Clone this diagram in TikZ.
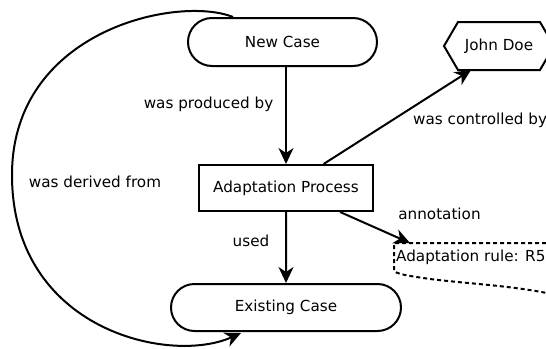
\documentclass[tikz,border=0pt]{standalone}
\usepackage{fontspec}
\setmainfont{DejaVu Sans}
\usetikzlibrary{shapes.misc,arrows.meta}
\begin{document}
\begin{tikzpicture}[x=1pt,y=-1pt,
  every node/.style={font=\fontsize{15.2}{18}\selectfont, inner sep=0pt},
  line/.style={line width=2pt},
  arr/.style={line, -{Stealth[length=16pt,width=15pt,inset=5pt]}},
  stadium/.style={rounded rectangle, draw, line width=2pt},
  procbox/.style={rectangle, draw, line width=2pt},
  lbl/.style={}]
\useasboundingbox (0,0) rectangle (546,348);

% entities, activity and agent
\node[stadium, minimum width=189pt, minimum height=48pt] (nc) at (282.5,42) {New Case};
\node[procbox, minimum width=174pt, minimum height=46pt] (ap) at (286,188) {Adaptation Process};
\node[stadium, minimum width=230pt, minimum height=47pt] (ec) at (286,307.5) {Existing Case};
\node (jd) at (499,46) {John Doe};
\draw[line, line join=miter] (444,46) -- (458,22) -- (540,22) -- (554,46) -- (540,70) -- (458,70) -- cycle;
\coordinate (jdin) at (471,70);

% annotation note with wavy lower edge
\draw[line, dash pattern=on 4pt off 3pt]
  (560,243) -- (394,243) -- (394,270)
  .. controls (394,274) and (410,276) .. (430,279)
  .. controls (470,284) and (520,286) .. (560,296);
\node[anchor=west] (note) at (396,257.5) {Adaptation rule: R5};
\coordinate (notein) at (410,243);

% relations
\draw[arr] (nc.south -| ap.north) -- (ap.north);
\draw[arr] (ap) -- (ec);
\draw[arr] (ap) -- (jdin);
\draw[arr] (ap) -- (notein);
\coordinate (dfrom) at (233,17);
\coordinate (dto) at (241,333);
\draw[arr] (dfrom) .. controls (178,-5) and (12,30) .. (12,175)
  .. controls (12,330) and (170,365) .. (dto);

% relation labels
\node[lbl] (l1) at (208.5,104) {was produced by};
\node[lbl, anchor=west] (l2) at (413,120.5) {was controlled by};
\node[lbl] (l3) at (95,181.5) {was derived from};
\node[lbl] (l4) at (251,241) {used};
\node[lbl] (l5) at (439.5,214) {annotation};
\end{tikzpicture}
\end{document}
